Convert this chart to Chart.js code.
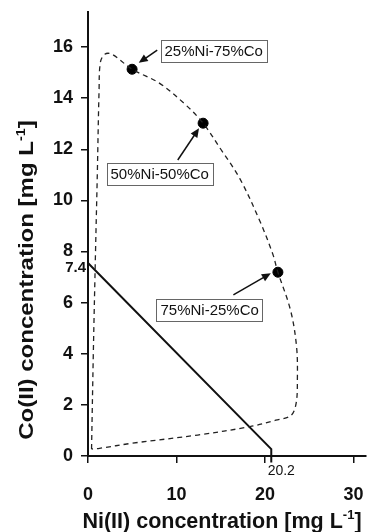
<!DOCTYPE html>
<html>
<head>
<meta charset="utf-8">
<script src="https://cdn.jsdelivr.net/npm/chart.js@4.4.1/dist/chart.umd.min.js"></script>
<style>
  html, body { margin: 0; padding: 0; background: #fff; }
</style>
</head>
<body>
<canvas id="chart" width="372" height="532"></canvas>
<script>
// dashed boundary (Ni, Co in mg/L)
const boundaryNi = [0.4, 0.6, 0.85, 1.05, 1.25, 1.4, 1.9, 2.7, 4.98, 8.0, 10.9, 13.0, 15.0, 17.15, 19.36, 20.84, 21.45, 22.87, 23.55, 23.65, 23.5, 22.9, 21.2, 18.3, 12.4, 5.0, 1.3, 0.4];
const boundaryCo = [0.27, 4.0, 8.0, 11.0, 14.3, 15.4, 15.72, 15.72, 15.13, 14.6, 13.78, 13.02, 12.0, 10.85, 9.23, 7.93, 7.19, 5.71, 4.3, 3.0, 2.05, 1.58, 1.4, 1.15, 0.82, 0.5, 0.3, 0.27];

// marked mixtures
const mixNi = [4.98, 13.0, 21.45];
const mixCo = [15.13, 13.02, 7.19];
const mixLabels = ['25%Ni-75%Co', '50%Ni-50%Co', '75%Ni-25%Co'];

// solid line 7.4 -> 20.2
const limitNi = [0, 20.7, 20.7];
const limitCo = [7.55, 0.27, -0.25];

const xTicks = [0, 10, 20, 30];
const yTicks = [0, 2, 4, 6, 8, 10, 12, 14, 16];

// annotation placement (data units)
const labelAt = [[14.2, 15.86], [8.1, 11.03], [13.74, 5.73]];
const arrowTail = [[7.82, 15.88], [10.14, 11.58], [16.42, 6.30]];
const arrowHead = [[5.73, 15.38], [12.54, 12.82], [20.65, 7.15]];

const FONT = "'Liberation Sans', Arial, sans-serif";

function zip(xs, ys) {
    return xs.map((x, i) => ({ x: x, y: ys[i] }));
}

function drawArrow(ctx, x1, y1, x2, y2) {
    const a = Math.atan2(y2 - y1, x2 - x1);
    const len = 9, w = 4;
    ctx.beginPath();
    ctx.moveTo(x1, y1);
    ctx.lineTo(x2 - Math.cos(a) * len * 0.8, y2 - Math.sin(a) * len * 0.8);
    ctx.stroke();
    ctx.beginPath();
    ctx.moveTo(x2, y2);
    ctx.lineTo(x2 - Math.cos(a) * len - Math.sin(a) * w, y2 - Math.sin(a) * len + Math.cos(a) * w);
    ctx.lineTo(x2 - Math.cos(a) * len + Math.sin(a) * w, y2 - Math.sin(a) * len - Math.cos(a) * w);
    ctx.closePath();
    ctx.fill();
}

// text with a "-1" superscript before the closing bracket
function drawUnitTitle(ctx, main, x, y, size) {
    const supSize = Math.round(size * 0.62);
    ctx.font = 'bold ' + size + 'px ' + FONT;
    const w1 = ctx.measureText(main).width;
    const w3 = ctx.measureText(']').width;
    ctx.font = 'bold ' + supSize + 'px ' + FONT;
    const w2 = ctx.measureText('-1').width;
    const total = w1 + w2 + w3;
    let cx = x - total / 2;
    ctx.textAlign = 'left';
    ctx.textBaseline = 'alphabetic';
    ctx.font = 'bold ' + size + 'px ' + FONT;
    ctx.fillText(main, cx, y);
    cx += w1;
    ctx.font = 'bold ' + supSize + 'px ' + FONT;
    ctx.fillText('-1', cx, y - size * 0.42);
    cx += w2;
    ctx.font = 'bold ' + size + 'px ' + FONT;
    ctx.fillText(']', cx, y);
}

const extras = {
    id: 'extras',
    afterDraw(chart) {
        const ctx = chart.ctx;
        const xs = chart.scales.x, ys = chart.scales.y;
        ctx.save();
        ctx.fillStyle = '#111';
        ctx.strokeStyle = '#111';

        // arrows
        ctx.lineWidth = 1.5;
        for (let i = 0; i < arrowTail.length; i++) {
            drawArrow(ctx,
                xs.getPixelForValue(arrowTail[i][0]), ys.getPixelForValue(arrowTail[i][1]),
                xs.getPixelForValue(arrowHead[i][0]), ys.getPixelForValue(arrowHead[i][1]));
        }

        // label boxes
        ctx.font = '15px ' + FONT;
        ctx.textAlign = 'center';
        ctx.textBaseline = 'middle';
        for (let i = 0; i < mixLabels.length; i++) {
            const px = xs.getPixelForValue(labelAt[i][0]);
            const py = ys.getPixelForValue(labelAt[i][1]);
            const w = ctx.measureText(mixLabels[i]).width + 8;
            const h = 22;
            ctx.fillStyle = '#fff';
            ctx.fillRect(px - w / 2, py - h / 2, w, h);
            ctx.lineWidth = 1;
            ctx.strokeStyle = '#666';
            ctx.strokeRect(Math.round(px - w / 2) + 0.5, Math.round(py - h / 2) + 0.5, Math.round(w), h);
            ctx.fillStyle = '#111';
            ctx.fillText(mixLabels[i], px, py + 1);
        }

        // intercept values
        ctx.font = 'bold 15px ' + FONT;
        ctx.textAlign = 'right';
        ctx.fillText('7.4', xs.left - 2, ys.getPixelForValue(7.4) + 1);
        ctx.font = '14px ' + FONT;
        ctx.textAlign = 'center';
        ctx.fillText('20.2', xs.getPixelForValue(limitNi[1]) + 10, ys.bottom + 15);

        // axis titles
        drawUnitTitle(ctx, 'Ni(II) concentration [mg L', (xs.left + xs.right) / 2 - 5, 528, 21.5);
        ctx.translate(33, 280);
        ctx.rotate(-Math.PI / 2);
        ctx.scale(1.2, 1);
        drawUnitTitle(ctx, 'Co(II) concentration [mg L', 0, 0, 20);
        ctx.restore();
    }
};

new Chart(document.getElementById('chart'), {
    type: 'scatter',
    data: {
        datasets: [{
            data: zip(boundaryNi, boundaryCo),
            showLine: true,
            borderColor: '#222',
            borderWidth: 1.3,
            borderDash: [5, 4],
            tension: 0.35,
            pointRadius: 0
        }, {
            data: zip(limitNi, limitCo),
            showLine: true,
            borderColor: '#111',
            borderWidth: 2,
            tension: 0,
            pointRadius: 0,
            clip: false
        }, {
            data: zip(mixNi, mixCo),
            showLine: false,
            pointRadius: 5,
            pointBackgroundColor: '#000',
            pointBorderColor: '#000'
        }]
    },
    options: {
        responsive: false,
        animation: false,
        layout: { padding: { top: 12, right: 0, left: 0, bottom: 0 } },
        plugins: {
            legend: { display: false },
            tooltip: { enabled: false }
        },
        scales: {
            x: {
                type: 'linear',
                min: 0,
                max: 31.4,
                afterBuildTicks: s => { s.ticks = xTicks.map(v => ({ value: v })); },
                afterFit: s => { s.height = 76; s.paddingLeft = 0; s.paddingRight = 0; },
                border: { color: '#111', width: 2 },
                grid: { drawOnChartArea: false, tickLength: 7, tickColor: '#111', lineWidth: 1.5 },
                ticks: {
                    color: '#111',
                    padding: 21,
                    font: { family: FONT, size: 18, weight: 'bold' }
                }
            },
            y: {
                type: 'linear',
                min: 0,
                max: 17.37,
                afterBuildTicks: s => { s.ticks = yTicks.map(v => ({ value: v })); },
                afterFit: s => { s.width = 88; s.paddingTop = 0; s.paddingBottom = 0; },
                border: { color: '#111', width: 2 },
                grid: { drawOnChartArea: false, tickLength: 7, tickColor: '#111', lineWidth: 1.5 },
                ticks: {
                    color: '#111',
                    padding: 8,
                    font: { family: FONT, size: 18, weight: 'bold' }
                }
            }
        }
    },
    plugins: [extras]
});
</script>
</body>
</html>
